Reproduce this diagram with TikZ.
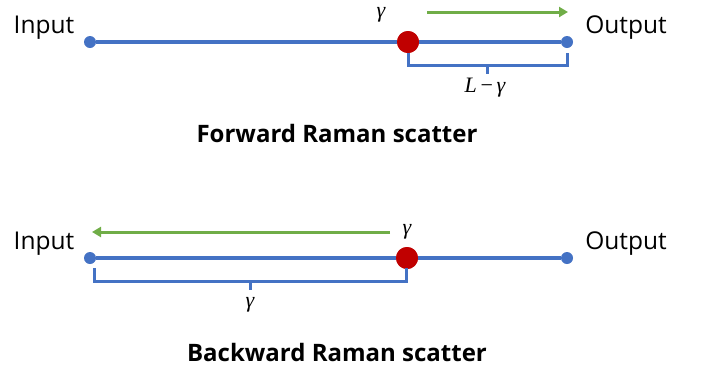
\documentclass[tikz,border=0pt]{standalone}
\usepackage{fontspec}
\setmainfont{Open Sans}
\newfontfamily\symfont{Liberation Serif}
\usetikzlibrary{arrows.meta}
\definecolor{fiber}{HTML}{4472C4}
\definecolor{scat}{HTML}{C00000}
\definecolor{light}{HTML}{70AD47}
\tikzset{
  fiberline/.style={draw=fiber, line width=4.2pt},
  endpt/.style={circle, fill=fiber, inner sep=0pt, minimum size=12pt},
  scatpt/.style={circle, fill=scat, inner sep=0pt, minimum size=22pt},
  lightray/.style={draw=light, line width=3pt, -{Triangle[length=9pt,width=10pt]}},
  bracket/.style={draw=fiber, line width=3pt},
  lbl/.style={font=\fontsize{24.5}{28}\selectfont, inner sep=0pt},
  ttl/.style={font=\bfseries\fontsize{24}{28}\selectfont, inner sep=0pt},
  mathlbl/.style={inner sep=0pt, font=\symfont\itshape\fontsize{22}{24}\selectfont}
}
\begin{document}
\begin{tikzpicture}[x=1pt,y=-1pt]
\useasboundingbox (0,0) rectangle (709,373);
% forward scatter
\node[endpt] (fin) at (90,42) {};
\node[endpt] (fout) at (567,42) {};
\node[scatpt] (fs) at (408,42) {};
\draw[fiberline] (fin) -- (fs) -- (fout);
\node[scatpt] at (408,42) {};
\node[lbl] (fil) at (44,28) {Input};
\node[lbl] (fol) at (626,28) {Output};
\node[mathlbl] (fg) at (381,15) {γ};
\coordinate (fa1) at (427,12);
\coordinate (fa2) at (568,12);
\draw[lightray] (fa1) -- (fa2);
\coordinate (fb1) at (408,53);
\coordinate (fb2) at (567,53);
\coordinate (fbm) at (487.5,65);
\draw[bracket] (fb1) |- (fbm) -| (fb2);
\coordinate (fbt) at (487.5,74);
\draw[bracket] (fbm) -- (fbt);
\node[mathlbl] (fbl) at (485,88) {L\,{\upshape −}\,γ};
\node[ttl] (ft) at (337,133) {Forward Raman scatter};
% backward scatter
\node[endpt] (bin) at (90,258) {};
\node[endpt] (bout) at (567,258) {};
\node[scatpt] (bs) at (407,258) {};
\draw[fiberline] (bin) -- (bs) -- (bout);
\node[scatpt] at (407,258) {};
\node[lbl] (bil) at (44,244) {Input};
\node[lbl] (bol) at (626,244) {Output};
\node[mathlbl] (bg) at (407,232) {γ};
\coordinate (ba1) at (390,232);
\coordinate (ba2) at (92,232);
\draw[lightray] (ba1) -- (ba2);
\coordinate (bb1) at (94,268);
\coordinate (bb2) at (406,268);
\coordinate (bbm) at (250,281);
\draw[bracket] (bb1) |- (bbm) -| (bb2);
\coordinate (bbt) at (250,290);
\draw[bracket] (bbm) -- (bbt);
\node[mathlbl] (bbl) at (250,305) {γ};
\node[ttl] (bt) at (337,352) {Backward Raman scatter};
\end{tikzpicture}
\end{document}
